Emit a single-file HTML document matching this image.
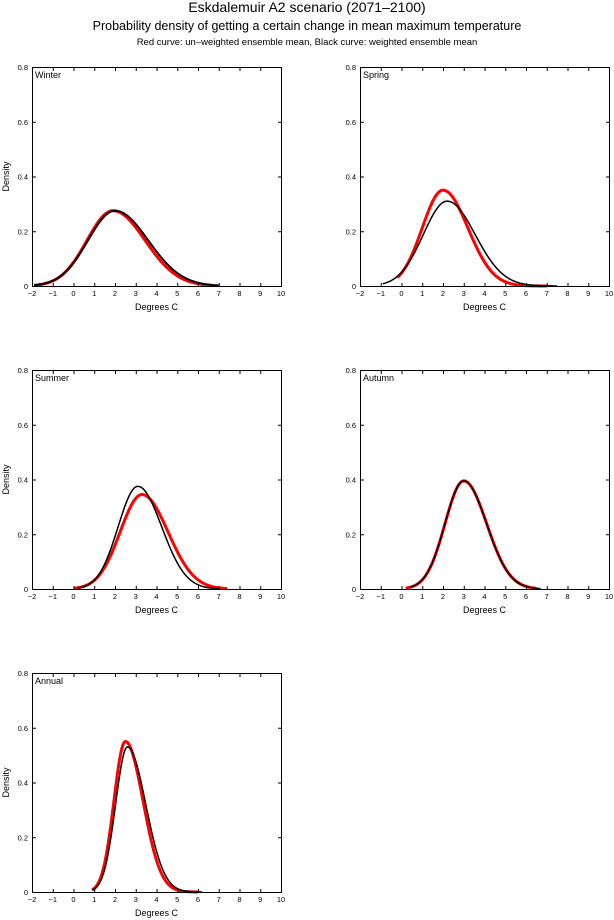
<!DOCTYPE html>
<html><head><meta charset="utf-8"><style>
html,body{margin:0;padding:0;background:#fff;width:614px;height:920px;overflow:hidden}
svg{display:block;font-family:"Liberation Sans",sans-serif}
</style></head><body>
<svg id="s" width="614" height="920" viewBox="0 0 614 920">
<text x="307" y="12" font-size="14" text-anchor="middle">Eskdalemuir A2 scenario (2071–2100)</text>
<text x="307" y="30" font-size="12.5" text-anchor="middle">Probability density of getting a certain change in mean maximum temperature</text>
<text x="307" y="45" font-size="9.5" text-anchor="middle">Red curve: un–weighted ensemble mean, Black curve: weighted ensemble mean</text>
</svg>
<script>
var s=document.getElementById('s'),NS='http://www.w3.org/2000/svg';
function el(t,a,txt){var e=document.createElementNS(NS,t);for(var k in a)e.setAttribute(k,a[k]);if(txt!=null)e.textContent=txt;s.appendChild(e);return e;}
var panels=[
 {x:32,y:67,name:'Winter',ylab:true,c:[[0.275,1.9,1.25,1.55,-1.9,6.6,'red',3],[0.275,2.0,1.3,1.6,-1.9,7.0,'#000',2]]},
 {x:360,y:67,name:'Spring',ylab:false,c:[[0.35,2.0,1.0,1.2,-0.2,7.0,'red',3],[0.31,2.2,1.15,1.35,-0.9,7.5,'#000',1.5]]},
 {x:32,y:370,name:'Summer',ylab:true,c:[[0.345,3.3,1.05,1.25,0.0,7.4,'red',3],[0.375,3.1,0.95,1.15,0.2,7.0,'#000',1.5]]},
 {x:360,y:370,name:'Autumn',ylab:false,c:[[0.395,3.0,0.9,1.1,0.2,6.5,'red',3],[0.395,3.0,0.9,1.1,0.4,6.7,'#000',1.5]]},
 {x:32,y:673,name:'Annual',ylab:true,c:[[0.55,2.5,0.55,0.85,0.9,6.0,'red',3],[0.53,2.6,0.57,0.88,0.9,6.2,'#000',1.5]]}
];
var W=249,H=219;
panels.forEach(function(p){
 var X=function(v){return p.x+(v+2)/12*W},Y=function(d){return p.y+H-d/0.8*H};
 p.c.forEach(function(c){
  var d='';for(var v=c[4];v<=c[5]+1e-9;v+=0.05){var sg=v<c[1]?c[2]:c[3];var y=c[0]*Math.exp(-0.5*Math.pow((v-c[1])/sg,2));d+=(d?'L':'M')+X(v).toFixed(2)+' '+Y(y).toFixed(2);}
  el('path',{d:d,fill:'none',stroke:c[6],'stroke-width':c[7]});
 });
 el('rect',{x:p.x+0.5,y:p.y+0.5,width:W,height:H,fill:'none',stroke:'#000','stroke-width':1});
 for(var i=-2;i<=10;i++){var xx=X(i)+0.5;el('line',{x1:xx,y1:p.y+H+0.5,x2:xx,y2:p.y+H-3,stroke:'#000'});el('line',{x1:xx,y1:p.y+0.5,x2:xx,y2:p.y+4,stroke:'#000'});
  el('text',{x:X(i),y:p.y+H+10,'font-size':7.5,'text-anchor':'middle'},i<0?'−'+(-i):String(i));}
 [0,0.2,0.4,0.6,0.8].forEach(function(t){var yy=Y(t)+0.5;el('line',{x1:p.x+0.5,y1:yy,x2:p.x+4,y2:yy,stroke:'#000'});el('line',{x1:p.x+W+0.5,y1:yy,x2:p.x+W-3,y2:yy,stroke:'#000'});
  el('text',{x:p.x-4,y:Y(t)+3,'font-size':7.5,'text-anchor':'end'},t===0?'0':t.toFixed(1));});
 el('text',{x:p.x+3,y:p.y+11,'font-size':9},p.name);
 el('text',{x:p.x+W/2,y:p.y+H+24,'font-size':9,'text-anchor':'middle'},'Degrees C');
 if(p.ylab){var t=el('text',{x:0,y:0,'font-size':9,'text-anchor':'middle',transform:'translate(9,'+(p.y+H/2)+') rotate(-90)'},'Density');}
});
</script>
</body></html>
